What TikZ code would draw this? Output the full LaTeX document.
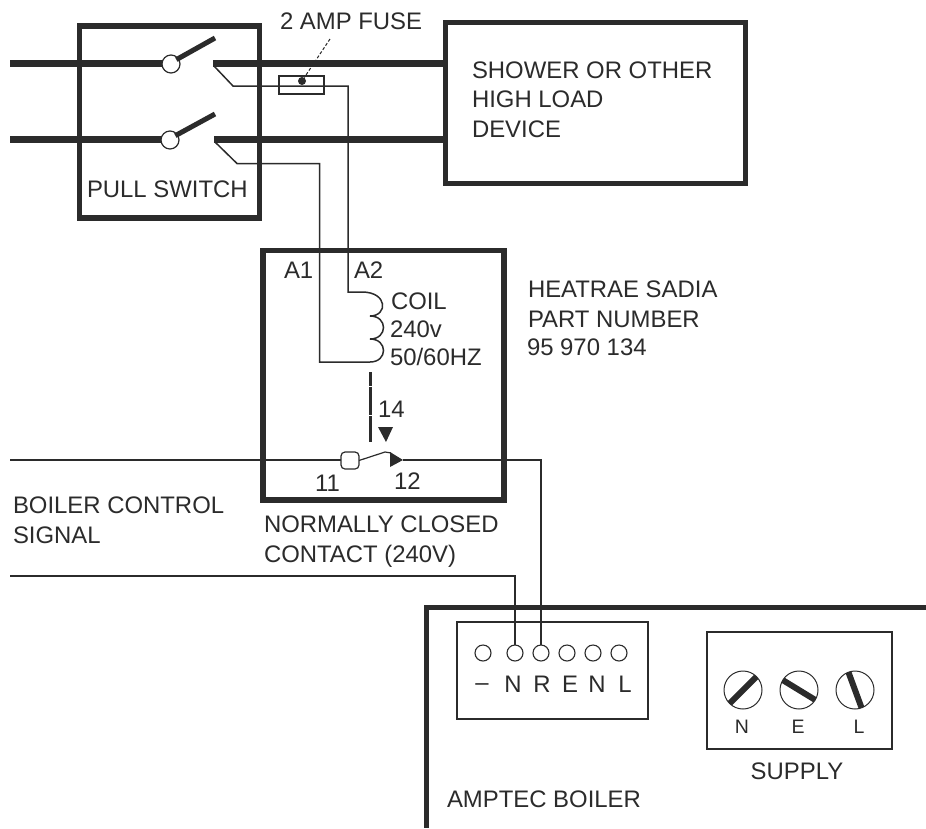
\documentclass[tikz,border=0pt]{standalone}
\usepackage{fontspec}
\setmainfont{Liberation Sans}
\definecolor{ink}{HTML}{2B2B2B}
\tikzset{
  lbl/.style={font=\fontsize{23.9}{24}\selectfont,text=ink,anchor=base west,inner sep=0pt,outer sep=0pt},
  lblsmall/.style={lbl,font=\fontsize{19.5}{20}\selectfont},
  heavybox/.style={draw=ink,line width=5.5pt,anchor=north west,inner sep=0pt,outer sep=0pt},
  lightbox/.style={draw=ink,line width=1.5pt,anchor=north west,inner sep=0pt,outer sep=0pt},
  bus/.style={draw=ink,line width=7pt},
  blade/.style={draw=ink,line width=5pt},
  wire/.style={draw=ink,line width=1.5pt,line join=miter},
  pivot/.style={circle,draw=ink,line width=1.2pt,fill=white,inner sep=0pt,outer sep=0pt,minimum size=18pt},
  term/.style={circle,draw=ink,line width=1.1pt,fill=white,inner sep=0pt,outer sep=0pt,minimum size=16pt},
  screw/.style={circle,draw=ink,line width=1pt,inner sep=0pt,outer sep=0pt,minimum size=38pt},
  slot/.style={draw=ink,line width=6pt},
}
\begin{document}
\begin{tikzpicture}[x=1pt,y=-1pt]
\useasboundingbox (0,0) rectangle (926,828);

% boxes
\node[heavybox,minimum width=180pt,minimum height=192pt] (pull) at (79.5,26) {};
\node[heavybox,minimum width=300pt,minimum height=161pt] (shower) at (445.5,22.5) {};
\node[heavybox,minimum width=241pt,minimum height=249.5pt] (relay) at (263,250.5) {};
\node[lightbox,minimum width=45pt,minimum height=18pt] (fuse) at (279,76) {};
\node[lightbox,minimum width=191pt,minimum height=97pt] (tbox) at (457,622) {};
\node[lightbox,minimum width=185pt,minimum height=117pt] (sbox) at (707,632) {};

% boiler outline
\coordinate (boilerTR) at (926,607);
\coordinate (boilerTL) at (426,607);
\coordinate (boilerBL) at (426,828);
\draw[ink,line width=5pt,line join=miter] (boilerTR) -- (boilerTL) -- (boilerBL);

% bus bars and pull switch
\coordinate (inA) at (10,63);
\coordinate (inB) at (10,139);
\coordinate (outA) at (213,63);
\coordinate (outB) at (214,139);
\node[pivot] (pivA) at (171,64) {};
\node[pivot] (pivB) at (170,140) {};
\path[bus] (inA) -- (pivA.west |- inA);
\path[bus] (inB) -- (pivB.west |- inB);
\path[bus] (outA) -- (outA -| shower.west);
\path[bus] (outB) -- (outB -| shower.west);
\coordinate (bladeAend) at (215,38);
\coordinate (bladeBend) at (215,114);
\path[blade] (pivA.north east) ++(-1,2) -- (bladeAend);
\path[blade] (pivB.north east) ++(-1,2) -- (bladeBend);

% coil wires
\coordinate (fuseWA) at (214,66);
\coordinate (fuseWB) at (233,86);
\coordinate (fuseWC) at (348,86);
\coordinate (coilTop) at (348,292);
\coordinate (c1) at (370,316);
\coordinate (c2) at (370,339);
\coordinate (coilEnd) at (370,362);
\coordinate (a1A) at (215,142);
\coordinate (a1B) at (237,163.5);
\coordinate (a1C) at (319.5,163.5);
\coordinate (a1D) at (319.5,362);
\path[wire] (fuseWA) -- (fuseWB) -- (fuseWC) -- (coilTop) -- (362,292)
  .. controls (388,292) and (388,316) .. (c1)
  .. controls (388,316) and (388,339) .. (c2)
  .. controls (388,339) and (388,362) .. (coilEnd) -- (a1D) -- (a1C) -- (a1B) -- (a1A);

% fuse marker
\node[circle,fill=ink,inner sep=0pt,minimum size=8pt] (fusedot) at (302,81) {};
\coordinate (fuselead) at (330,39);
\draw[ink,line width=1pt,densely dashed] (fuselead) -- (fusedot);

% relay contact
\coordinate (armTop) at (370,372);
\coordinate (armBot) at (370,442);
\draw[ink,line width=3pt,dash pattern=on 14pt off 0.6pt] (armTop) -- (armBot);
\fill[ink] (378,427) -- (393,427) -- (386,442) -- cycle;
\node[draw=ink,line width=1.2pt,fill=white,rounded corners=4pt,minimum width=18pt,minimum height=17pt,inner sep=0pt,outer sep=0pt] (cont) at (350,460.5) {};
\coordinate (sigL) at (10,460);
\coordinate (contTip) at (403,460);
\coordinate (contHook) at (385,452);
\coordinate (sigR) at (542,460);
\draw[wire] (sigL) -- (cont.west |- sigL);
\draw[ink,line width=1.2pt] (cont.east) -- (contHook) -- (391,453);
\fill[ink] (390,452) -- (390,467) -- (contTip) -- cycle;
\node[term] (t1) at (483,653) {};
\node[term] (t2) at (515,653) {};
\node[term] (t3) at (541,653) {};
\node[term] (t4) at (567,653) {};
\node[term] (t5) at (593,653) {};
\node[term] (t6) at (619,653) {};
\path[wire] (contTip) -- (t3 |- sigR) -- (t3.north);
\coordinate (sigB) at (10,576);
\path[wire] (sigB) -- (t2 |- sigB) -- (t2.north);

% screws
\node[screw] (sN) at (743,690) {};
\node[screw] (sE) at (799,690) {};
\node[screw] (sL) at (855,690) {};
\begin{scope}
\clip (743,690) circle [x radius=19pt,y radius=19pt];
\path[slot] (sN.south west) -- (sN.north east);
\end{scope}
\begin{scope}
\clip (799,690) circle [x radius=19pt,y radius=19pt];
\path[slot] (781,679) -- (817,701);
\end{scope}
\begin{scope}
\clip (855,690) circle [x radius=19pt,y radius=19pt];
\path[slot] (848,671) -- (862,709);
\end{scope}

% labels
\node[lbl] (lfuse) at (280,29) {2 AMP FUSE};
\node[lbl] (lpull) at (87,197) {PULL SWITCH};
\node[lbl] (ls1) at (472,78) {SHOWER OR OTHER};
\node[lbl] (ls2) at (472,107) {HIGH LOAD};
\node[lbl] (ls3) at (472,137) {DEVICE};
\node[lbl] (la1) at (284,278) {A1};
\node[lbl] (la2) at (354,278) {A2};
\node[lbl] (lc1) at (391,309) {COIL};
\node[lbl] (lc2) at (390,337) {240v};
\node[lbl] (lc3) at (390,365) {50/60HZ};
\node[lbl] (l14) at (378,417) {14};
\node[lbl] (l11) at (315,491) {11};
\node[lbl] (l12) at (394,489) {12};
\node[lbl] (lh1) at (528,297) {HEATRAE SADIA};
\node[lbl] (lh2) at (528,327) {PART NUMBER};
\node[lbl] (lh3) at (527,355) {95 970 134};
\node[lbl] (ln1) at (264,532) {NORMALLY CLOSED};
\node[lbl] (ln2) at (264,562) {CONTACT (240V)};
\node[lbl] (lb1) at (13,513) {BOILER CONTROL};
\node[lbl] (lb2) at (13,543) {SIGNAL};
\node[lbl,anchor=base] (k1) at (482,690) {–};
\node[lbl,anchor=base] (k2) at (513,692) {N};
\node[lbl,anchor=base] (k3) at (542,692) {R};
\node[lbl,anchor=base] (k4) at (570,692) {E};
\node[lbl,anchor=base] (k5) at (597,692) {N};
\node[lbl,anchor=base] (k6) at (625,692) {L};
\node[lblsmall,anchor=base] (n1) at (742,733) {N};
\node[lblsmall,anchor=base] (n2) at (798,733) {E};
\node[lblsmall,anchor=base] (n3) at (859,733) {L};
\node[lbl,anchor=base] (lsup) at (797,779) {SUPPLY};
\node[lbl] (lamp) at (447,807) {AMPTEC BOILER};
\end{tikzpicture}
\end{document}
